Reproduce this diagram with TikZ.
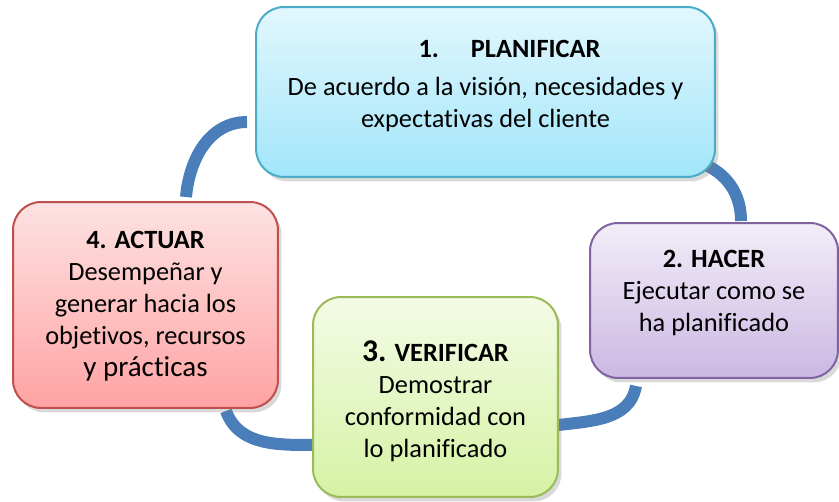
\documentclass[tikz,border=0pt]{standalone}
\usepackage{fontspec}
\setmainfont{Carlito}[Ligatures=CommonOff]
\usetikzlibrary{shadows, calc, backgrounds}

\definecolor{cycleblue}{HTML}{4A7EBB}
\definecolor{planline}{HTML}{4BACC6}
\definecolor{plantop}{HTML}{E2F7FD}
\definecolor{planbot}{HTML}{A2E6FA}
\definecolor{hacerline}{HTML}{8064A2}
\definecolor{hacertop}{HTML}{F2EDF8}
\definecolor{hacerbot}{HTML}{CBB8E3}
\definecolor{verifline}{HTML}{9BBB59}
\definecolor{veriftop}{HTML}{F4FBE6}
\definecolor{verifbot}{HTML}{D5F2A4}
\definecolor{actline}{HTML}{C0504D}
\definecolor{acttop}{HTML}{FDE2E2}
\definecolor{actbot}{HTML}{FFA3A3}

\begin{document}
\begin{tikzpicture}[x=0.02cm, y=0.02cm]
  \newcommand\boxround{0.56cm}
  \newcommand\arcwidth{0.24cm}

  \tikzset{stage/.style={draw, line width=0.04cm, rounded corners=\boxround, drop shadow={shadow xshift=0.07cm, shadow yshift=-0.09cm, opacity=0.3}}}
  \tikzset{stagetxt/.style={align=center, inner sep=0pt, font=\fontsize{15pt}{18.2pt}\selectfont}}
  \tikzset{cyclearc/.style={draw=cycleblue, line width=\arcwidth}}

  \tikzset{planbox/.style={stage, draw=planline, top color=plantop, bottom color=planbot}}
  \tikzset{hacerbox/.style={stage, draw=hacerline, top color=hacertop, bottom color=hacerbot}}
  \tikzset{verifbox/.style={stage, draw=verifline, top color=veriftop, bottom color=verifbot}}
  \tikzset{actbox/.style={stage, draw=actline, top color=acttop, bottom color=actbot}}

  \useasboundingbox (0,0) rectangle (839,502);

  % the four stages
  \foreach \stagename/\cx/\cy/\bw/\bh in {plan/485.5/410/9.18/3.4, hacer/714/201.5/4.96/3.1, verif/435.5/105/4.9/4.0, act/145.5/197/5.3/4.12}{
    \node[\stagename box, minimum width=\bw cm, minimum height=\bh cm] (\stagename) at (\cx,\cy) {};
  }

  \node[stagetxt] (plan-txt) at (485.5,416) {\textbf{\hspace*{0.96cm}1.\hspace{0.64cm}PLANIFICAR}\\[0.12cm]De acuerdo a la visión, necesidades y\\expectativas del cliente};
  \node[stagetxt] (hacer-txt) at (714,209) {\textbf{2. HACER}\\Ejecutar como se\\ha planificado};
  \node[stagetxt] (verif-txt) at (435.5,101) {\textbf{{\fontsize{18pt}{18.2pt}\selectfont 3.} VERIFICAR}\\Demostrar\\conformidad con\\lo planificado};
  \node[stagetxt] (act-txt) at (145.5,196) {\textbf{4. ACTUAR}\\Desempeñar y\\generar hacia los\\objetivos, recursos\\{\fontsize{16.5pt}{18.2pt}\selectfont y prácticas}};

  % arc ends
  \coordinate (act-up) at ($(act.north)+(40.5,4)$);
  \coordinate (plan-in) at ($(plan.west)+(-8,-30)$);
  \coordinate (plan-out) at ($(plan.south east)+(-15,15)$);
  \coordinate (hacer-in) at ($(hacer.north)+(27,1)$);
  \coordinate (hacer-out) at ($(hacer.south)+(-78,-7)$);
  \coordinate (verif-in) at ($(verif.east)+(-8,-29)$);
  \coordinate (verif-out) at ($(verif.west)+(4,-48)$);
  \coordinate (act-in) at ($(act.south)+(80.5,-2)$);

  \begin{pgfonlayer}{background}
    \draw[cyclearc] (act-up) to[out=85, in=180] (plan-in);
    \draw[cyclearc] (plan-out) to[out=-21, in=90] (hacer-in);
    \draw[cyclearc] (hacer-out) to[out=-100, in=8] (verif-in);
    \draw[cyclearc] (verif-out) to[out=180, in=-70] (act-in);
  \end{pgfonlayer}
\end{tikzpicture}
\end{document}
